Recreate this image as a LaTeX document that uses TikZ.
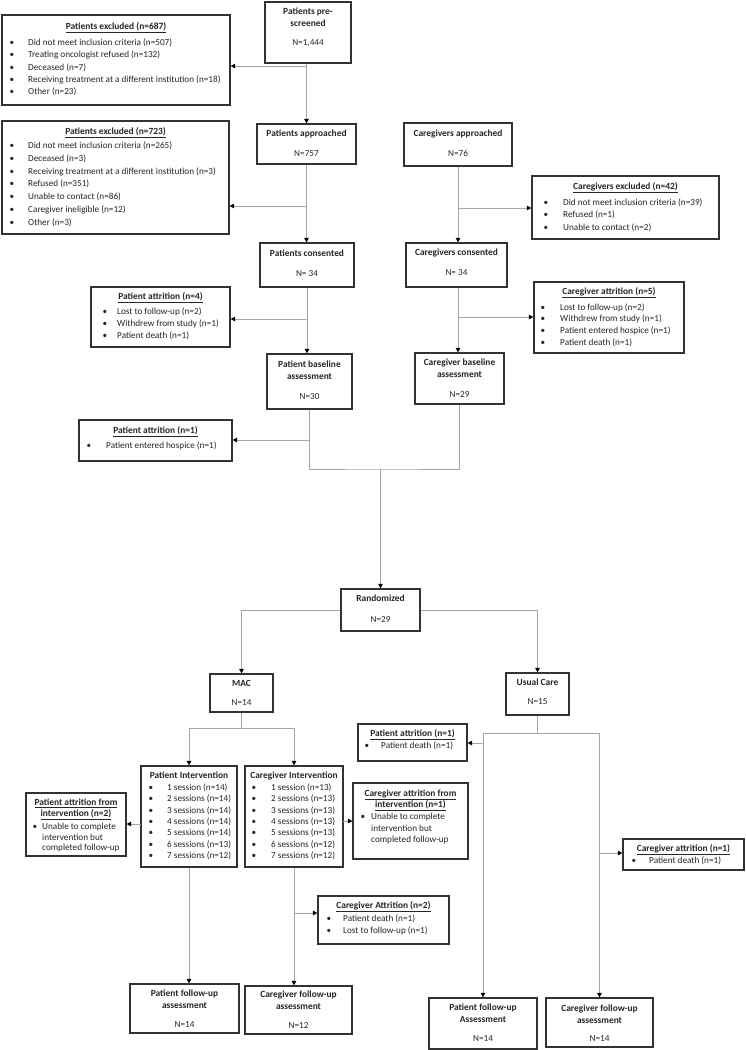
\documentclass[tikz,border=0pt]{standalone}
\usepackage{fontspec}
\setmainfont{Carlito}
\usetikzlibrary{arrows.meta}
\definecolor{boxc}{HTML}{333333}
\definecolor{linec}{HTML}{A6A6A6}
\newcounter{tc}
\tikzset{
 box/.style={draw=boxc, line width=1.2pt, inner sep=0pt, fill=white},
 txt/.style={inner sep=0pt, anchor=mid, font=\fontsize{9.2}{11}\selectfont, text=black!85},
 btxt/.style={txt, font=\fontsize{9.4}{11}\selectfont\bfseries},
 ltxt/.style={txt, anchor=mid west},
 conn/.style={draw=linec, line width=1pt},
 arr/.style={conn, -{Triangle[length=4.5pt,width=4.5pt,color=black]}},
}
\newcommand{\mybx}[5]{\node[box, minimum width={(#4)-(#2)}, minimum height={(#5)-(#3)}] (#1) at ({((#2)+(#4))/2},{((#3)+(#5))/2}) {};}
\newcommand{\mytx}[3]{\stepcounter{tc}\node[txt] (t\arabic{tc}) at (#1,#2) {#3};}
\newcommand{\mytb}[3]{\stepcounter{tc}\node[btxt] (t\arabic{tc}) at (#1,#2) {#3};}
\newcommand{\mytu}[3]{\mytb{#1}{#2}{\underline{#3}}}
\newcommand{\mybul}[4]{\stepcounter{tc}\node[txt] (t\arabic{tc}) at (#1,#3) {\textbullet};\stepcounter{tc}\node[ltxt] (t\arabic{tc}) at (#2,#3) {#4};}
\newcommand{\mylt}[3]{\stepcounter{tc}\node[ltxt] (t\arabic{tc}) at (#1,#2) {#3};}
\begin{document}
\begin{tikzpicture}[x=1pt,y=-1pt]
\useasboundingbox (0,0) rectangle (745,1050);
\fill[white] (0,0) rectangle (745,1050);
% boxes
\mybx{pre}{265}{2}{351}{63}
\mybx{exc1}{2}{15}{230}{105}
\mybx{ap}{257}{124}{356}{164}
\mybx{exc2}{2}{121}{229}{234}
\mybx{cap}{404}{123}{512}{166}
\mybx{cexc}{532}{176}{719}{239}
\mybx{cons}{260}{243}{354}{287}
\mybx{ccons}{406}{243}{507}{287}
\mybx{att4}{91}{287}{230}{347}
\mybx{catt5}{534}{282}{684}{353}
\mybx{pbase}{267}{354}{352}{409}
\mybx{cbase}{415}{353}{504}{404}
\mybx{att1}{79}{420}{232}{461}
\mybx{rand}{341}{589}{420}{631}
\mybx{mac}{210}{674}{273}{712}
\mybx{uc}{506}{673}{569}{715}
\mybx{ratt1}{358}{724}{467}{761}
\mybx{pint}{141}{766}{237}{867}
\mybx{cint}{245}{766}{343}{867}
\mybx{pattint}{26}{793}{126}{856}
\mybx{cattint}{353}{783}{468}{859}
\mybx{rcatt1}{623}{839}{744}{870}
\mybx{catt2}{318}{896}{449}{944}
\mybx{pfu}{130}{984}{239}{1033}
\mybx{cfu}{245}{986}{352}{1034}
\mybx{rpfu}{429}{998}{537}{1049}
\mybx{rcfu}{546}{998}{653}{1047}
% texts
\mytb{308}{12}{Patients pre-}
\mytb{308}{24}{screened}
\mytx{308}{43}{N=1,444}
\mytu{116}{27}{Patients excluded (n=687)}
\mybul{12}{28}{43}{Did not meet inclusion criteria (n=507)}
\mybul{12}{28}{55.3}{Treating oncologist refused (n=132)}
\mybul{12}{28}{67.7}{Deceased (n=7)}
\mybul{12}{28}{80}{Receiving treatment at a different institution (n=18)}
\mybul{12}{28}{92.3}{Other (n=23)}
\mytb{306.5}{134}{Patients approached}
\mytx{306.5}{154}{N=757}
\mytu{115.5}{132}{Patients excluded (n=723)}
\mybul{12}{28}{146}{Did not meet inclusion criteria (n=265)}
\mybul{12}{28}{159}{Deceased (n=3)}
\mybul{12}{28}{172}{Receiving treatment at a different institution (n=3)}
\mybul{12}{28}{184.5}{Refused (n=351)}
\mybul{12}{28}{197}{Unable to contact (n=86)}
\mybul{12}{28}{210}{Caregiver ineligible (n=12)}
\mybul{12}{28}{223}{Other (n=3)}
\mytb{458}{134}{Caregivers approached}
\mytx{458}{154}{N=76}
\mytu{625.5}{187}{Caregivers excluded (n=42)}
\mybul{546}{563}{203}{Did not meet inclusion criteria (n=39)}
\mybul{546}{563}{215.5}{Refused (n=1)}
\mybul{546}{563}{228}{Unable to contact (n=2)}
\mytb{307}{254}{Patients consented}
\mytx{307}{274}{N= 34}
\mytb{456.5}{253}{Caregivers consented}
\mytx{456.5}{273}{N= 34}
\mytu{160.5}{297}{Patient attrition (n=4)}
\mybul{105}{117}{312}{Lost to follow-up (n=2)}
\mybul{105}{117}{324}{Withdrew from study (n=1)}
\mybul{105}{117}{336}{Patient death (n=1)}
\mytu{609}{292}{Caregiver attrition (n=5)}
\mybul{543}{560}{308}{Lost to follow-up (n=2)}
\mybul{543}{560}{319.5}{Withdrew from study (n=1)}
\mybul{543}{560}{331}{Patient entered hospice (n=1)}
\mybul{543}{560}{343}{Patient death (n=1)}
\mytb{309.5}{365}{Patient baseline}
\mytb{309.5}{377}{assessment}
\mytx{309.5}{397}{N=30}
\mytb{459.5}{363}{Caregiver baseline}
\mytb{459.5}{375}{assessment}
\mytx{459.5}{395}{N=29}
\mytu{155.5}{431}{Patient attrition (n=1)}
\mybul{89}{106}{446}{Patient entered hospice (n=1)}
\mytb{380.5}{599}{Randomized}
\mytx{380.5}{620}{N=29}
\mytb{241.5}{684}{MAC}
\mytx{241.5}{703}{N=14}
\mytb{537.5}{683}{Usual Care}
\mytx{537.5}{702}{N=15}
\mytu{412.5}{734}{Patient attrition (n=1)}
\mybul{367}{381}{746}{Patient death (n=1)}
\mytb{189}{776}{Patient Intervention}
\mybul{151}{167}{788}{1 session (n=14)}
\mybul{151}{167}{799.3}{2 sessions (n=14)}
\mybul{151}{167}{810.7}{3 sessions (n=14)}
\mybul{151}{167}{822}{4 sessions (n=14)}
\mybul{151}{167}{833.3}{5 sessions (n=14)}
\mybul{151}{167}{844.7}{6 sessions (n=13)}
\mybul{151}{167}{856}{7 sessions (n=12)}
\mytb{294}{776}{Caregiver Intervention}
\mybul{254}{271}{788}{1 session (n=13)}
\mybul{254}{271}{799.3}{2 sessions (n=13)}
\mybul{254}{271}{810.7}{3 sessions (n=13)}
\mybul{254}{271}{822}{4 sessions (n=13)}
\mybul{254}{271}{833.3}{5 sessions (n=13)}
\mybul{254}{271}{844.7}{6 sessions (n=12)}
\mybul{254}{271}{856}{7 sessions (n=12)}
\mytu{76}{803}{Patient attrition from}
\mytu{76}{814}{intervention (n=2)}
\mybul{35}{42}{827}{Unable to complete}
\mylt{42}{838}{intervention but}
\mylt{42}{848}{completed follow-up}
\mytu{410.5}{794}{Caregiver attrition from}
\mytu{410.5}{805}{intervention (n=1)}
\mybul{363}{371}{817}{Unable to complete}
\mylt{371}{829}{intervention but}
\mylt{371}{840}{completed follow-up}
\mytu{683.5}{849}{Caregiver attrition (n=1)}
\mybul{634}{649}{861}{Patient death (n=1)}
\mytu{383.5}{906}{Caregiver Attrition (n=2)}
\mybul{329}{343}{919}{Patient death (n=1)}
\mybul{329}{343}{931}{Lost to follow-up (n=1)}
\mytb{184.5}{994}{Patient follow-up}
\mytb{184.5}{1006}{assessment}
\mytx{184.5}{1025}{N=14}
\mytb{298.5}{995}{Caregiver follow-up}
\mytb{298.5}{1007}{assessment}
\mytx{298.5}{1026}{N=12}
\mytb{483}{1008}{Patient follow-up}
\mytb{483}{1020}{Assessment}
\mytx{483}{1039}{N=14}
\mytb{599.5}{1009}{Caregiver follow-up}
\mytb{599.5}{1021}{assessment}
\mytx{599.5}{1039}{N=14}
% connectors
\draw[arr] (ap.north |- pre.south) -- (ap.north);
\coordinate (j1) at (306.5,66);
\draw[arr] (j1) -- (j1 -| exc1.east);
\draw[arr] (ap.south) -- (ap.south |- cons.north);
\coordinate (j2) at (306.5,206);
\draw[arr] (j2) -- (j2 -| exc2.east);
\draw[arr] (cons.south) -- (cons.south |- pbase.north);
\coordinate (j3) at (307,319);
\draw[arr] (j3) -- (j3 -| att4.east);
\draw[arr] (cap.south) -- (cap.south |- ccons.north);
\coordinate (j4) at (458,208);
\draw[arr] (j4) -- (j4 -| cexc.west);
\draw[arr] (cap.south |- ccons.south) -- (cap.south |- cbase.north);
\coordinate (j5) at (458,317);
\draw[arr] (j5) -- (j5 -| catt5.west);
\coordinate (mid) at (380.5,469);
\draw[conn] (pbase.south) |- (mid) -| (cbase.south);
\draw[arr] (mid) -- (rand.north);
\coordinate (j6) at (309.5,440);
\draw[arr] (j6) -- (j6 -| att1.east);
\draw[arr] (rand.west) -| (mac.north);
\draw[arr] (rand.east) -| (uc.north);
\coordinate (ms) at (241.5,728);
\draw[conn] (mac.south) -- (ms);
\draw[arr] (ms) -| (pint.north);
\draw[arr] (ms) -| (cint.north);
\draw[arr] (pint.south) -- (pint.south |- pfu.north);
\draw[arr] (cint.south) -- (cint.south |- cfu.north);
\coordinate (j7) at (141,824);
\draw[arr] (j7) -- (j7 -| pattint.east);
\coordinate (j8) at (343,821);
\draw[arr] (j8) -- (j8 -| cattint.west);
\coordinate (j9) at (294,913);
\draw[arr] (j9) -- (j9 -| catt2.west);
\coordinate (us) at (537.5,733);
\draw[conn] (uc.south) -- (us);
\draw[arr] (us) -| (rpfu.north);
\draw[arr] (us) -| (rcfu.north);
\coordinate (j10) at (483,743);
\draw[arr] (j10) -- (j10 -| ratt1.east);
\coordinate (j11) at (599.5,853);
\draw[arr] (j11) -- (j11 -| rcatt1.west);
\end{tikzpicture}
\end{document}
